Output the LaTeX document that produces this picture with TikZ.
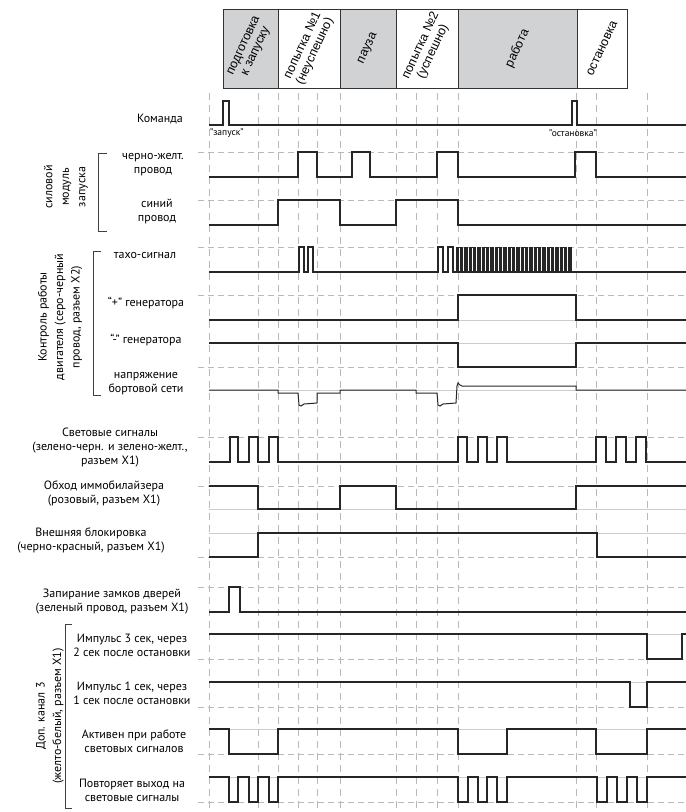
\documentclass[tikz,border=0pt]{standalone}
\usepackage{fontspec}
\setmainfont{PT Sans}
\newfontfamily\hdrfont{Liberation Sans}
\definecolor{hdrgray}{HTML}{D1D2D4}

\begin{document}
\begin{tikzpicture}[x=1pt,y=-1pt,
  sig/.style={black!85, line width=1.1pt, line join=miter},
  lvl/.style={gray!55, line width=0.9pt, dash pattern=on 6pt off 4pt},
  base/.style={gray!40, line width=0.9pt},
  guide/.style={gray!55, line width=0.9pt, dash pattern=on 7pt off 5pt},
  phase/.style={draw=black!80, line width=1pt},
  hdr/.style={rotate=65, align=center, inner sep=0pt, font=\hdrfont\fontsize{12.5}{13.5}\selectfont},
  lbl/.style={align=center, inner sep=0pt, font=\fontsize{12}{14}\selectfont},
  grp/.style={align=center, rotate=90, inner sep=0pt, font=\fontsize{12}{16.5}\selectfont},
  brk/.style={black!75, line width=0.9pt},
  note/.style={inner sep=0pt, font=\fontsize{9.5}{10}\selectfont}]
\useasboundingbox (0,0) rectangle (686,812);

% Phase boxes on top
\foreach \a/\b/\f/\t in {223/278/hdrgray/{подготовка\\к запуску},
    278/340/white/{попытка №1\\(неуспешно)}, 340/396/hdrgray/{пауза},
    396/458/white/{попытка №2\\(успешно)}, 458/577/hdrgray/{работа},
    577/627/white/{остановка}}{
  \draw[phase, fill=\f] (\a,9) rectangle (\b,88);
  \node[hdr] at ({(\a+\b)/2},48.5) {\t};
}

% Time marks
\foreach \x in {209,258,278,298,317,340,396,416,437,458,576,596,647}
  \draw[guide] (\x,93) -- (\x,812);
% Levels: dashed = active level, grey = idle level
\foreach \y in {152,200,247,295,367,437,486,557,587,659,707,754,802}
  \draw[lvl] (198,\y) -- (686,\y);
\foreach \y in {320,343,390,509,533,634,682,729,777}
  \draw[base] (209,\y) -- (686,\y);

% Command
\node[lbl] (cmd) at (160,119) {Команда};
\draw[sig] (209,125) -- (223,125) -- (223,101) -- (229,101) -- (229,125)
  -- (572,125) -- (572,101) -- (577,101) -- (577,125) -- (686,125);
\node[note, anchor=west] (start) at (210,133) {"запуск"};
\node[note] (stop) at (573,133) {"остановка"};

% Starter module
\draw[brk] (107,153) -- (98,153) -- (98,231) -- (107,231);
\node[grp] (power) at (66,187) {силовой\\модуль\\запуска};
\node[lbl] (byWire) at (153,164.5) {черно-желт.\\провод};
\draw[sig] (209,177) \foreach \a/\b in {298/317,352/370,437/458,575/596}
  { -- (\a,177) |- (\b,152) -- (\b,177) } -- (686,177);
\node[lbl] (blueWire) at (157,211.5) {синий\\провод};
\draw[sig] (209,225) \foreach \a/\b in {278/340,396/458}
  { -- (\a,225) |- (\b,200) -- (\b,225) } -- (686,225);

% Engine control
\draw[brk] (101,251) -- (93,251) -- (93,395) -- (101,395);
\node[grp] (engine) at (60,317) {Контроль работы\\двигателя (серо-черный\\провод, разъем X2)};
\node[lbl] (tacho) at (145,255) {тахо-сигнал};
\draw[sig] (209,272) \foreach \a/\b in {299/304,308/313,438/443,448/453}
  { -- (\a,272) |- (\b,247) -- (\b,272) } -- (686,272);
\foreach \x in {456,458.6,...,572}
  \draw[sig, line width=0.55pt] (\x,272) -- (\x,247) -- (\x+1.3,247) -- (\x+1.3,272);
\node[lbl] (genPlus) at (146,303) {“+” генератора};
\draw[sig] (209,320) -- (458,320) -- (458,295) -- (576,295) -- (576,320) -- (686,320);
\node[lbl] (genMinus) at (146,340) {“-” генератора};
\draw[sig] (209,343) -- (458,343) -- (458,367) -- (576,367) -- (576,343) -- (686,343);
\node[lbl] (supply) at (146,383.5) {напряжение\\бортовой сети};
\draw[sig, line width=1pt] (209,390) -- (278,390) -- (278,393) -- (298,393)
  -- (299,405) -- (301,406) -- (304,404) -- (317,403) -- (317,393) -- (340,393)
  -- (340,390) -- (416,390) -- (416,393) -- (437,393) -- (438,405) -- (440,406)
  -- (443,404) -- (456,403) -- (457,386) -- (458,383) -- (460,385) -- (462,386)
  -- (576,386) -- (576,390) -- (686,390);

% Outputs
\node[lbl] (lights) at (110,448) {Световые сигналы\\(зелено-черн. и зелено-желт.,\\разъем X1)};
\draw[sig] (209,462) \foreach \a/\b in {230/238,249/258,269/278,458/467,478/487,497/507,596/606,616/626,636/646}
  { -- (\a,462) |- (\b,437) -- (\b,462) } -- (686,462);
\node[lbl] (immo) at (104,493) {Обход иммобилайзера\\(розовый, разъем X1)};
\draw[sig] (209,486) -- (258,486) -- (258,509) -- (340,509) -- (340,486) -- (396,486)
  -- (396,509) -- (576,509) -- (576,486) -- (686,486);
\node[lbl] (block) at (91,540) {Внешняя блокировка\\(черно-красный, разъем X1)};
\draw[sig] (209,557) -- (258,557) -- (258,533) -- (597,533) -- (597,557) -- (686,557);
\node[lbl] (locks) at (112,601.5) {Запирание замков дверей\\(зеленый провод, разъем X1)};
\draw[sig] (209,612) -- (229,612) -- (229,587) -- (240,587) -- (240,612) -- (686,612);

% Aux channel 3
\draw[brk] (72,624) -- (65,624) -- (65,808) -- (72,808);
\node[grp] (aux) at (50,716) {Доп. канал 3\\(желто-белый, разъем X1)};
\node[lbl] (pulseThree) at (132,645) {Импульс 3 сек, через\\2 сек после остановки};
\draw[sig] (209,634) -- (647,634) -- (647,659) -- (682,659) -- (682,634) -- (686,634);
\node[lbl] (pulseOne) at (132,693.5) {Импульс 1 сек, через\\1 сек после остановки};
\draw[sig] (209,682) -- (630,682) -- (630,707) -- (647,707) -- (647,682) -- (686,682);
\node[lbl] (active) at (134,741.5) {Активен при работе\\световых сигналов};
\draw[sig] (209,729) \foreach \a/\b in {229/278,458/507,596/647}
  { -- (\a,729) |- (\b,754) -- (\b,729) } -- (686,729);
\node[lbl] (repeat) at (132,790) {Повторяет выход на\\световые сигналы};
\draw[sig] (209,777) \foreach \a/\b in {229/238,249/258,269/278,458/468,478/487,497/507,597/607,617/627,637/647}
  { -- (\a,777) |- (\b,802) -- (\b,777) } -- (686,777);
\end{tikzpicture}
\end{document}
